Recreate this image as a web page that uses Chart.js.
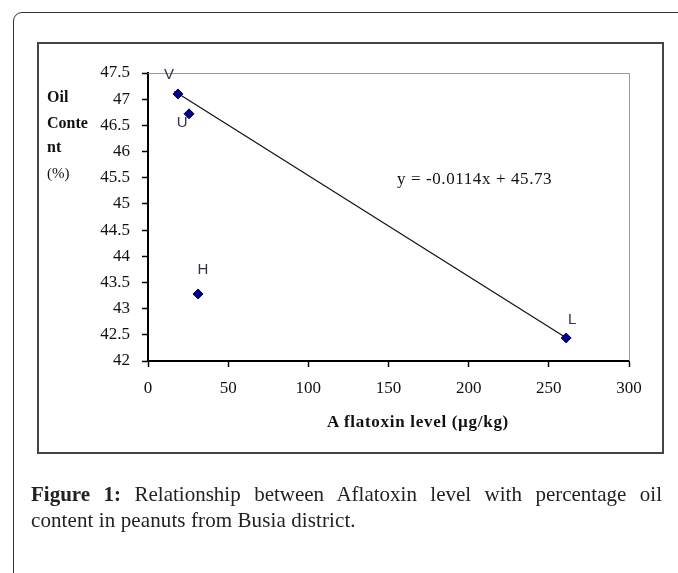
<!DOCTYPE html>
<html>
<head>
<meta charset="utf-8">
<script src="https://cdn.jsdelivr.net/npm/chart.js@4.4.0/dist/chart.umd.min.js"></script>
<style>
  html, body { margin: 0; padding: 0; background: #fff; }
  #wrap { position: relative; width: 678px; height: 573px; overflow: hidden; }
  #card { position: absolute; left: 13px; top: 12px; width: 720px; height: 620px;
          border: 1.5px solid #333; border-radius: 9px; }
  #box { position: absolute; left: 37px; top: 42px; width: 623px; height: 408px;
         border: 2px solid #444; }
  canvas { position: absolute; left: 0; top: 0; }
  .ytitle { position: absolute; left: 47px; font-family: "Liberation Serif", serif;
            font-size: 16px; font-weight: bold; color: #111; line-height: 16px; }
  .txt { position: absolute; font-family: "Liberation Serif", serif; color: #111; white-space: nowrap; }
  .cap { position: absolute; left: 31px; width: 631px; font-family: "Liberation Serif", serif;
         font-size: 21px; color: #222; white-space: nowrap; }
</style>
</head>
<body>
<div id="wrap">
  <div id="card"></div>
  <div id="box"></div>
  <canvas id="chart" width="678" height="573"></canvas>

  <div class="ytitle" style="top:89px">Oil</div>
  <div class="ytitle" style="top:115px">Conte</div>
  <div class="ytitle" style="top:139px">nt</div>
  <div class="ytitle" style="top:165px;font-weight:normal;font-size:15px">(%)</div>

  <div class="txt" style="left:397px;top:169px;font-size:17px;letter-spacing:0.6px">y = -0.0114x + 45.73</div>
  <div class="txt" style="left:327px;top:412px;font-size:17px;font-weight:bold;letter-spacing:0.7px">A flatoxin level (µg/kg)</div>

  <div class="cap" style="top:482px;text-align:justify;text-align-last:justify"><b>Figure 1:</b> Relationship between Aflatoxin level with percentage oil</div>
  <div class="cap" style="top:508px;letter-spacing:0.1px">content in peanuts from Busia district.</div>
</div>

<script>
// sample codes and measured values
const sampleCodes = ["V", "U", "H", "L"];
const aflatoxin = [18.7, 25.6, 31.2, 260.8];    // µg/kg
const oilContent = [47.1, 46.72, 43.28, 42.44]; // %

// trend line as drawn in the figure
const trendX = [16.5, 262];
const trendY = [47.15, 42.42];

const xTicks = [0, 50, 100, 150, 200, 250, 300];
const yTicks = [42, 42.5, 43, 43.5, 44, 44.5, 45, 45.5, 46, 46.5, 47, 47.5];

// label nudges (pixels) for the point names
const labelDx = [-9, -7, 5, 6];
const labelDy = [-19, 9, -24, -18];

const pointData = aflatoxin.map((x, i) => ({ x: x, y: oilContent[i] }));
const trendData = trendX.map((x, i) => ({ x: x, y: trendY[i] }));

const extras = {
  id: 'extras',
  beforeDatasetsDraw(chart) {
    const { ctx, chartArea: a } = chart;
    ctx.save();
    ctx.strokeStyle = '#9a9a9a';
    ctx.lineWidth = 1;
    ctx.beginPath();
    ctx.moveTo(a.left, Math.round(a.top) + 0.5);
    ctx.lineTo(Math.round(a.right) + 0.5, Math.round(a.top) + 0.5);
    ctx.lineTo(Math.round(a.right) + 0.5, a.bottom);
    ctx.stroke();
    ctx.restore();
  },
  afterDatasetsDraw(chart) {
    const ctx = chart.ctx;
    const meta = chart.getDatasetMeta(0);
    ctx.save();
    ctx.font = '15px "Liberation Sans"';
    ctx.fillStyle = '#3a2d47';
    ctx.textAlign = 'center';
    ctx.textBaseline = 'middle';
    sampleCodes.forEach((t, i) => {
      const p = meta.data[i];
      ctx.fillText(t, p.x + labelDx[i], p.y + labelDy[i]);
    });
    ctx.restore();
  }
};

new Chart(document.getElementById('chart'), {
  type: 'scatter',
  data: {
    datasets: [
      {
        label: 'Oil content',
        data: pointData,
        pointStyle: 'rectRot',
        pointRadius: 5,
        backgroundColor: '#000080',
        borderColor: '#000080',
        borderWidth: 1
      },
      {
        type: 'line',
        label: 'Trend',
        data: trendData,
        borderColor: '#111',
        borderWidth: 1.2,
        pointRadius: 0,
        fill: false
      }
    ]
  },
  options: {
    responsive: false,
    animation: false,
    layout: { padding: { left: 78, right: 49, top: 73, bottom: 172 } },
    plugins: { legend: { display: false }, tooltip: { enabled: false } },
    scales: {
      x: {
        type: 'linear', min: 0, max: 300,
        afterBuildTicks: s => { s.ticks = xTicks.map(v => ({ value: v })); },
        afterFit: s => { s.height = 40; },
        ticks: { padding: 11, color: '#111', maxRotation: 0,
                 font: { family: 'Liberation Serif', size: 17 } },
        grid: { drawOnChartArea: false, drawTicks: true, tickLength: 6, tickColor: '#000', tickWidth: 1.5 },
        border: { color: '#000', width: 2 }
      },
      y: {
        type: 'linear', min: 42, max: 47.5,
        afterBuildTicks: s => { s.ticks = yTicks.map(v => ({ value: v })); },
        afterFit: s => { s.width = 70; },
        ticks: { padding: 12, color: '#111',
                 callback: v => String(v),
                 font: { family: 'Liberation Serif', size: 17 } },
        grid: { drawOnChartArea: false, drawTicks: true, tickLength: 6, tickColor: '#000', tickWidth: 1.5 },
        border: { color: '#000', width: 2 }
      }
    }
  },
  plugins: [extras]
});
</script>
</body>
</html>
